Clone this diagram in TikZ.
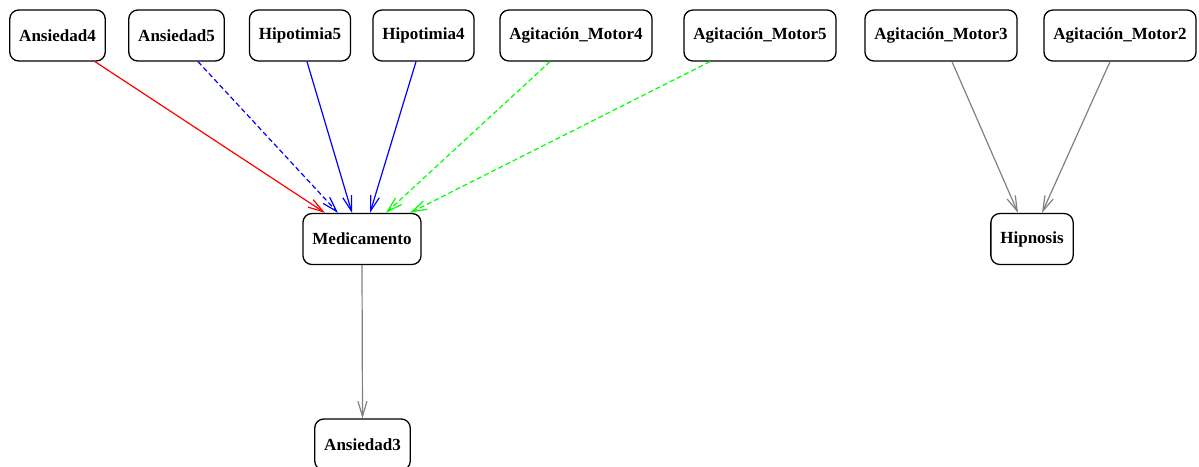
\documentclass[tikz,border=0pt]{standalone}
\usepackage{fontspec}
\setmainfont{Liberation Serif}
\usetikzlibrary{arrows.meta}
\begin{document}
\begin{tikzpicture}[x=1pt,y=-1pt,
  nd/.style={draw=black,line width=1.3pt,rounded corners=9pt,minimum height=51pt,inner xsep=9.5pt,font=\fontsize{17}{19}\selectfont\bfseries,fill=white},
  ar/.style={line width=1.2pt,-{Straight Barb[length=15pt,width=9pt,line width=1.2pt]}},
  dsh/.style={dash pattern=on 5pt off 3pt},
  red/.style={draw=red},
  blu/.style={draw=blue},
  grn/.style={draw=green},
  gry/.style={draw=gray}
]
\useasboundingbox (0,0) rectangle (1199,466);
\node[nd] (a4) at (57.5,35.5) {Ansiedad4};
\node[nd] (a5) at (176.5,35.5) {Ansiedad5};
\node[nd] (h5) at (300,35.5) {Hipotimia5};
\node[nd] (h4) at (423.5,35.5) {Hipotimia4};
\node[nd] (m4) at (576,35.5) {Agitación\_Motor4};
\node[nd] (m5) at (760,35.5) {Agitación\_Motor5};
\node[nd] (m3) at (941,35.5) {Agitación\_Motor3};
\node[nd] (m2) at (1120,35.5) {Agitación\_Motor2};
\node[nd] (med) at (362,239) {Medicamento};
\node[nd] (hip) at (1032,239) {Hipnosis};
\node[nd] (a3) at (362.5,444.5) {Ansiedad3};
\draw[ar,red] (a4.south -| 95,0) -- (med.north -| 325,0);
\draw[ar,blu,dsh] (a5.south -| 198,0) -- (med.north -| 338,0);
\draw[ar,blu] (h5.south -| 307,0) -- (med.north -| 352,0);
\draw[ar,blu] (h4.south -| 416,0) -- (med.north -| 370,0);
\draw[ar,grn,dsh] (m4.south -| 550,0) -- (med.north -| 386,0);
\draw[ar,grn,dsh] (m5.south -| 710,0) -- (med.north -| 410,0);
\draw[ar,gry] (med.south) -- (a3.north);
\draw[ar,gry] (m3.south -| 952,0) -- (hip.north -| 1018,0);
\draw[ar,gry] (m2.south -| 1110,0) -- (hip.north -| 1042,0);
\end{tikzpicture}
\end{document}
